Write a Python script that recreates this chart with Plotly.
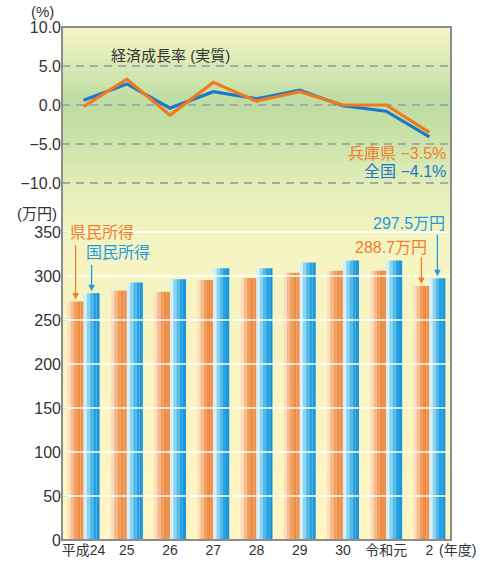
import plotly.graph_objects as go

# ---------------- data ----------------
categories = ["H24", "H25", "H26", "H27", "H28", "H29", "H30", "R1", "R2"]
tick_labels = ["平成24<br>2012", "25", "26<br>2014", "27", "28<br>2016", "29",
               "30<br>2018", "令和元", "2<br>2020"]
hyogo_growth = [-0.2, 3.3, -1.3, 2.9, 0.5, 1.7, 0.0, 0.0, -3.5]
national_growth = [0.6, 2.7, -0.4, 1.7, 0.8, 1.9, -0.1, -0.8, -4.1]
hyogo_income = [271.0, 283.4, 282.0, 295.5, 297.7, 303.7, 306.0, 306.0, 288.7]
national_income = [280.5, 292.5, 296.3, 308.7, 308.7, 315.4, 317.7, 317.7, 297.5]
growth_ticks = [-10, -5, 0, 5, 10]
income_ticks = [0, 50, 100, 150, 200, 250, 300, 350]

# ---------------- geometry / style ----------------
W, H = 484, 563
L, R, T, B = 62, 451, 27, 540
PW, PH = R - L, B - T
split_px = 200
dom_split = (B - split_px) / PH

def px(xp):
    return (xp - L) / PW

def py(yp):
    return (B - yp) / PH

ORANGE_LINE = "#F07A1E"
BLUE_LINE = "#1E78C8"
ORANGE_TXT = "#F07E2A"
BLUE_TXT = "#1E9BDF"
FONT = "Liberation Sans, Noto Sans CJK JP, sans-serif"

orange_strips = ["#FCDDC0", "#F7BA8A", "#F29D5E", "#EE8B44", "#EE9250"]
blue_strips = ["#D4F0FB", "#8CD4F4", "#4DB9EC", "#25A2E3", "#1996DC"]
bar_w = 0.37

fig = go.Figure()

# bars as vertical strips (gradient imitation)
n = len(orange_strips)
for i, c in enumerate(orange_strips):
    fig.add_trace(go.Bar(x=categories, y=hyogo_income, width=bar_w / n,
                         offset=-bar_w + i * bar_w / n, marker_color=c,
                         marker_line_width=0, showlegend=False, hoverinfo="skip"))
for i, c in enumerate(blue_strips):
    fig.add_trace(go.Bar(x=categories, y=national_income, width=bar_w / n,
                         offset=i * bar_w / n, marker_color=c,
                         marker_line_width=0, showlegend=False, hoverinfo="skip"))

# growth lines
fig.add_trace(go.Scatter(x=categories, y=national_growth, yaxis="y2", mode="lines",
                         line=dict(color=BLUE_LINE, width=3.2), showlegend=False))
fig.add_trace(go.Scatter(x=categories, y=hyogo_growth, yaxis="y2", mode="lines",
                         line=dict(color=ORANGE_LINE, width=3.2), showlegend=False))

# ---------------- background gradient ----------------
stops = [(27, (248, 244, 198)), (60, (221, 235, 185)), (100, (190, 221, 162)),
         (130, (198, 224, 166)), (170, (218, 234, 180)), (200, (233, 240, 188)),
         (240, (244, 244, 194)), (540, (255, 245, 194))]

def color_at(y):
    for (y0, c0), (y1, c1) in zip(stops[:-1], stops[1:]):
        if y0 <= y <= y1:
            t = (y - y0) / (y1 - y0)
            return "rgb(%d,%d,%d)" % tuple(round(a + (b - a) * t) for a, b in zip(c0, c1))
    return "rgb(%d,%d,%d)" % stops[-1][1]

shapes = []
step = 4
y = T
while y < B:
    y2 = min(y + step, B)
    shapes.append(dict(type="rect", xref="paper", yref="paper", x0=0, x1=1,
                       y0=py(y2), y1=py(y), fillcolor=color_at((y + y2) / 2),
                       line=dict(width=0), layer="below"))
    y = y2

# white gridlines above bars
for v in income_ticks[1:]:
    shapes.append(dict(type="line", xref="paper", yref="y", x0=0, x1=1, y0=v, y1=v,
                       line=dict(color="white", width=1.6), layer="above"))
# zero line dark dashed
shapes.append(dict(type="line", xref="paper", yref="y2", x0=0, x1=1, y0=0, y1=0,
                   line=dict(color="#333333", width=1.6, dash="8px,6px"), layer="between"))
# frame
shapes.append(dict(type="rect", xref="paper", yref="paper", x0=0, x1=1, y0=0, y1=1,
                   line=dict(color="#8C8C8C", width=2), fillcolor="rgba(0,0,0,0)",
                   layer="above"))

# ---------------- annotations ----------------
def txt(text, x, y, color, size, xanchor="left"):
    return dict(text=text, x=px(x), y=py(y), xref="paper", yref="paper",
                xanchor=xanchor, yanchor="middle", showarrow=False,
                font=dict(family=FONT, size=size, color=color))

def fmt(v):
    return ("−%.1f" % -v) if v < 0 else "%.1f" % v

annotations = [
    txt("(%)", 42, 11, "#333333", 15, "center"),
    txt("(万円)", 37, 213, "#333333", 15, "center"),
    txt("経済成長率 (実質)", 109, 55, "#333333", 15),
    txt("兵庫県 " + fmt(hyogo_growth[-1]) + "%", 448, 153, ORANGE_TXT, 16, "right"),
    txt("全国 " + fmt(national_growth[-1]) + "%", 448, 171, BLUE_LINE, 16, "right"),
    txt("県民所得", 68, 232, ORANGE_TXT, 16),
    txt("国民所得", 84, 252, BLUE_TXT, 16),
    txt("%.1f万円" % national_income[-1], 447, 223, BLUE_TXT, 16, "right"),
    txt("%.1f万円" % hyogo_income[-1], 429, 247, ORANGE_TXT, 16, "right"),
    txt("(年度)", 457, 550, "#333333", 14, "center"),
]

def arrow(xi, yv, color, ay):
    return dict(x=xi, y=yv, xref="x", yref="y", ax=0, ay=ay, text="", showarrow=True,
                arrowhead=2, arrowsize=1, arrowwidth=1.3, arrowcolor=color, standoff=2)

annotations += [
    arrow(0 - bar_w / 2, hyogo_income[0], ORANGE_TXT, -58),
    arrow(0 + bar_w / 2, national_income[0], BLUE_TXT, -30),
    arrow(8 - bar_w / 2, hyogo_income[-1], ORANGE_TXT, -30),
    arrow(8 + bar_w / 2, national_income[-1], BLUE_TXT, -45),
]

fig.update_layout(
    width=W, height=H,
    margin=dict(l=L, r=W - R, t=T, b=H - B, autoexpand=False),
    paper_bgcolor="white", plot_bgcolor="rgba(0,0,0,0)",
    barmode="overlay", bargap=0.26,
    showlegend=False,
    font=dict(family=FONT, size=15, color="#333333"),
    xaxis=dict(type="category", categoryorder="array", categoryarray=categories,
               range=[-0.5, len(categories) - 0.5], tickvals=categories,
               ticktext=tick_labels, ticks="", showgrid=False, zeroline=False,
               showline=False, tickfont=dict(size=14, color="#333333"), anchor="y",
               automargin=False),
    yaxis=dict(domain=[0, dom_split], range=[0, (B - split_px) / ((B - 232) / 350)],
               tickvals=income_ticks, ticktext=[str(v) for v in income_ticks],
               ticks="inside", ticklen=5, tickcolor="#777777", tickwidth=1.3,
               showgrid=False, zeroline=False, showline=False, automargin=False,
               tickfont=dict(size=16, color="#333333")),
    yaxis2=dict(domain=[dom_split, 1],
                range=[10 - (split_px - T) / ((183 - T) / 20), 10],
                tickvals=growth_ticks, ticktext=[fmt(v) for v in growth_ticks],
                showgrid=True, gridcolor="#A8A8A8", gridwidth=1.5, griddash="8px,6px",
                zeroline=False, showline=False, ticks="", anchor="x", automargin=False,
                tickfont=dict(size=16, color="#333333")),
    shapes=shapes,
    annotations=annotations,
)

fig.write_html("out.html", config={"displayModeBar": False})

# remove the default page margin so the figure sits at the window's top-left
with open("out.html", encoding="utf-8") as f:
    html = f.read()
html = html.replace("<body>", '<body style="margin:0;overflow:hidden">', 1)
with open("out.html", "w", encoding="utf-8") as f:
    f.write(html)
